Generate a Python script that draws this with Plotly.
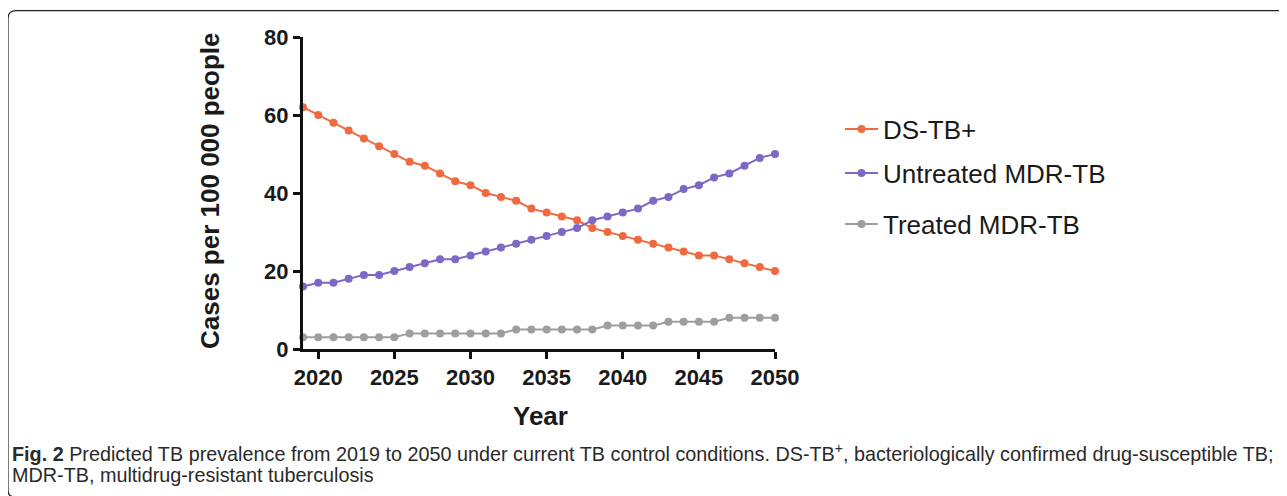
import plotly.graph_objects as go

years = list(range(2019, 2051))
ds_tb = [62, 60, 58, 56, 54, 52, 50, 48, 47, 45, 43, 42, 40, 39, 38, 36,
         35, 34, 33, 31, 30, 29, 28, 27, 26, 25, 24, 24, 23, 22, 21, 20]
untreated_mdr = [16, 17, 17, 18, 19, 19, 20, 21, 22, 23, 23, 24, 25, 26, 27, 28,
                 29, 30, 31, 33, 34, 35, 36, 38, 39, 41, 42, 44, 45, 47, 49, 50]
treated_mdr = [3, 3, 3, 3, 3, 3, 3, 4, 4, 4, 4, 4, 4, 4, 5, 5,
               5, 5, 5, 5, 6, 6, 6, 6, 7, 7, 7, 7, 8, 8, 8, 8]
series_names = ["DS-TB+", "Untreated MDR-TB", "Treated MDR-TB"]
colors = ["#EF6A40", "#7E68C5", "#9E9E9E"]
x_ticks = [2020, 2025, 2030, 2035, 2040, 2045, 2050]
y_ticks = [0, 20, 40, 60, 80]

# the page body has an 8px margin, so the figure starts at (8, 8)
OFF = 8
W, H = 1287, 496
ML, MR, MT, MB = 295, 520, 29, 155
PW, PH = W - ML - MR, H - MT - MB


def px(x):
    return (x - OFF - ML) / PW


def py(y):
    return (H - MB - (y - OFF)) / PH


fig = go.Figure()
legend_ids = ["legend", "legend2", "legend3"]
for name, vals, col, lg in zip(series_names, [ds_tb, untreated_mdr, treated_mdr], colors, legend_ids):
    fig.add_trace(go.Scatter(
        x=years, y=vals, name=name, mode="lines+markers",
        line=dict(color=col, width=2),
        marker=dict(color=col, size=8),
        cliponaxis=False, legend=lg,
    ))

legend_common = dict(
    xanchor="left", yanchor="middle", bgcolor="rgba(0,0,0,0)",
    font=dict(family="Liberation Sans, Arial", size=26, color="#1a1a1a"),
    itemwidth=33,
)
LX = 840
fig.update_layout(
    width=W, height=H,
    margin=dict(l=ML, r=MR, t=MT, b=MB),
    paper_bgcolor="white", plot_bgcolor="white",
    showlegend=True,
    legend=dict(x=px(LX), y=py(129), **legend_common),
    legend2=dict(x=px(LX), y=py(173), **legend_common),
    legend3=dict(x=px(LX), y=py(224), **legend_common),
    xaxis=dict(
        range=[2019, 2050], tickvals=x_ticks, showgrid=False, zeroline=False,
        showline=True, linewidth=3, linecolor="#111",
        ticks="outside", ticklen=7, tickwidth=3, tickcolor="#111",
        tickfont=dict(family="Liberation Sans, Arial", size=22, color="#1a1a1a", weight="bold"),
    ),
    yaxis=dict(
        range=[0, 80], tickvals=y_ticks, showgrid=False, zeroline=False,
        showline=True, linewidth=3, linecolor="#111",
        ticks="outside", ticklen=7, tickwidth=3, tickcolor="#111",
        tickfont=dict(family="Liberation Sans, Arial", size=22, color="#1a1a1a", weight="bold"),
    ),
)

title_font = dict(family="Liberation Sans, Arial", size=26, color="#1a1a1a", weight="bold")
fig.add_annotation(text="Year", xref="paper", yref="paper", x=px(540), y=py(416),
                   xanchor="center", yanchor="middle", showarrow=False, font=title_font)
fig.add_annotation(text="Cases per 100 000 people", xref="paper", yref="paper",
                   x=px(210), y=py(191), textangle=-90,
                   xanchor="center", yanchor="middle", showarrow=False, font=title_font)

cap_font = dict(family="Liberation Sans, Arial", size=19.8, color="#2a2a2a")
fig.add_annotation(
    text="<b>Fig. 2</b> Predicted TB prevalence from 2019 to 2050 under current TB control conditions. "
         "DS-TB<sup>+</sup>, bacteriologically confirmed drug-susceptible TB;",
    xref="paper", yref="paper", x=px(10), y=py(452), xanchor="left", yanchor="middle",
    showarrow=False, font=cap_font)
fig.add_annotation(
    text="MDR-TB, multidrug-resistant tuberculosis",
    xref="paper", yref="paper", x=px(10), y=py(475), xanchor="left", yanchor="middle",
    showarrow=False, font=cap_font)

# rounded frame around the figure (bottom edge lies outside the window)
r = 8
x0, y0 = 8, 10.7
path = (f"M {px(W + 20)},{py(y0)} L {px(x0 + r)},{py(y0)} "
        f"Q {px(x0)},{py(y0)} {px(x0)},{py(y0 + r)} "
        f"L {px(x0)},{py(490)} Q {px(x0)},{py(497)} {px(x0 + 7)},{py(497)}")
fig.add_shape(type="path", path=path, xref="paper", yref="paper",
              line=dict(color="#222", width=1.2), layer="below")

fig.write_html("out.html")
